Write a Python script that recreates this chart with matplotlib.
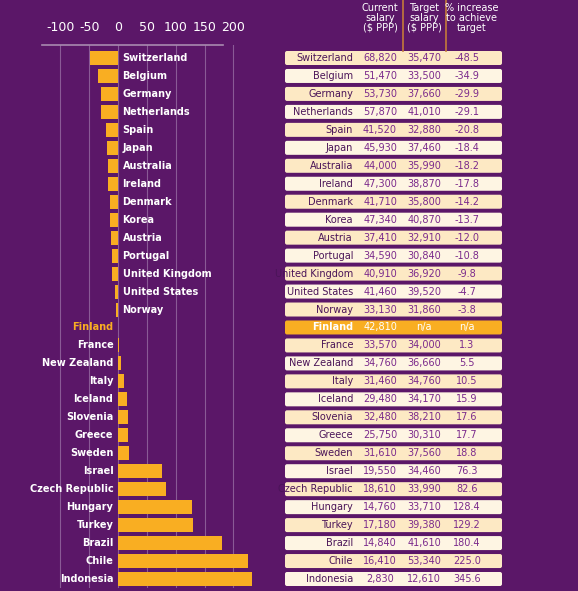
import matplotlib.pyplot as plt
from matplotlib.patches import FancyBboxPatch

countries = ["Switzerland", "Belgium", "Germany", "Netherlands", "Spain", "Japan", "Australia",
             "Ireland", "Denmark", "Korea", "Austria", "Portugal", "United Kingdom", "United States",
             "Norway", "Finland", "France", "New Zealand", "Italy", "Iceland", "Slovenia", "Greece",
             "Sweden", "Israel", "Czech Republic", "Hungary", "Turkey", "Brazil", "Chile", "Indonesia"]
current = ["68,820", "51,470", "53,730", "57,870", "41,520", "45,930", "44,000", "47,300", "41,710",
           "47,340", "37,410", "34,590", "40,910", "41,460", "33,130", "42,810", "33,570", "34,760",
           "31,460", "29,480", "32,480", "25,750", "31,610", "19,550", "18,610", "14,760", "17,180",
           "14,840", "16,410", "2,830"]
target = ["35,470", "33,500", "37,660", "41,010", "32,880", "37,460", "35,990", "38,870", "35,800",
          "40,870", "32,910", "30,840", "36,920", "39,520", "31,860", "n/a", "34,000", "36,660",
          "34,760", "34,170", "38,210", "30,310", "37,560", "34,460", "33,990", "33,710", "39,380",
          "41,610", "53,340", "12,610"]
pct = [-48.5, -34.9, -29.9, -29.1, -20.8, -18.4, -18.2, -17.8, -14.2, -13.7, -12.0, -10.8, -9.8,
       -4.7, -3.8, None, 1.3, 5.5, 10.5, 15.9, 17.6, 17.7, 18.8, 76.3, 82.6, 128.4, 129.2, 180.4,
       225.0, 345.6]
ticks = [-100, -50, 0, 50, 100, 150, 200]

W, H = 578, 591
BG = "#5b1768"
GOLD = "#f9ae22"
fig = plt.figure(figsize=(W / 100, H / 100), dpi=100, facecolor=BG)

# bar axes, laid out in pixels
y_top, y_bot = 58, 579
step = (y_bot - y_top) / (len(countries) - 1)
ax_l, ax_r = 42, 252
ax_t = y_top - step / 2 - 4
ax_b = y_bot + step / 2
ax = fig.add_axes([ax_l / W, 1 - ax_b / H, (ax_r - ax_l) / W, (ax_b - ax_t) / H])
ax.set_facecolor(BG)
ppu = (233 - 60) / 300
ax.set_xlim((ax_l - 118) / ppu, (ax_r - 118) / ppu)
ytop = -0.5 - 4 / step
ax.set_ylim(len(countries) - 0.5, ytop)
for t in ticks:
    ax.axvline(t, color="#8a5a96", lw=0.8, zorder=0)
vals = [v if v is not None else 0 for v in pct]
ax.barh(range(len(countries)), vals, height=0.78, color=GOLD, zorder=2)
for s in ax.spines.values():
    s.set_visible(False)
ax.set_yticks([])
ax.set_xticks([])
xmin, xmax = ax.get_xlim()
ax.plot([xmin, (223 - 118) / ppu], [ytop] * 2, color="#a88ab0", lw=1.2, clip_on=False)
for t in ticks:
    ax.text(t, ytop - 0.6, str(t), color="white", fontsize=9, ha="center", va="bottom")

for i, (c, v) in enumerate(zip(countries, pct)):
    col = GOLD if c == "Finland" else "white"
    if v is not None and v < 0:
        ax.text(8, i, c, color=col, fontsize=7, fontweight="bold", ha="left", va="center")
    else:
        ax.text(-8, i, c, color=col, fontsize=7, fontweight="bold", ha="right", va="center")

# table
tab = fig.add_axes([0, 0, 1, 1])
tab.set_xlim(0, W)
tab.set_ylim(H, 0)
tab.axis("off")
for i, c in enumerate(countries):
    yc = y_top + i * step
    fin = c == "Finland"
    fc = GOLD if fin else ("#fde9c4" if i % 2 == 0 else "#fef5e3")
    tab.add_patch(FancyBboxPatch((285, yc - 7), 217, 14, boxstyle="round,pad=0,rounding_size=2",
                                 fc=fc, ec="none"))
    tc = "white" if fin else "#4a1458"
    nc = "white" if fin else "#7b2a8c"
    p = "n/a" if pct[i] is None else f"{pct[i]:.1f}"
    tab.text(353, yc, c, color=tc, fontsize=7, fontweight="bold" if fin else "normal",
             ha="right", va="center")
    tab.text(380, yc, current[i], color=nc, fontsize=7, ha="center", va="center")
    tab.text(424, yc, target[i], color=nc, fontsize=7, ha="center", va="center")
    tab.text(467, yc, p, color=nc, fontsize=7, ha="center", va="center")

for x in (403, 446):
    tab.plot([x, x], [0, 51], color="#c47a3a", lw=1.2)
tab.text(380, 18, "Current\nsalary\n($ PPP)", color="white", fontsize=7, ha="center",
         va="center", linespacing=1.0)
tab.text(424, 18, "Target\nsalary\n($ PPP)", color="white", fontsize=7, ha="center",
         va="center", linespacing=1.0)
tab.text(472, 18, "% increase\nto achieve\ntarget", color="white", fontsize=7, ha="center",
         va="center", linespacing=1.0)

fig.savefig("out.png", dpi=100, facecolor=BG)
